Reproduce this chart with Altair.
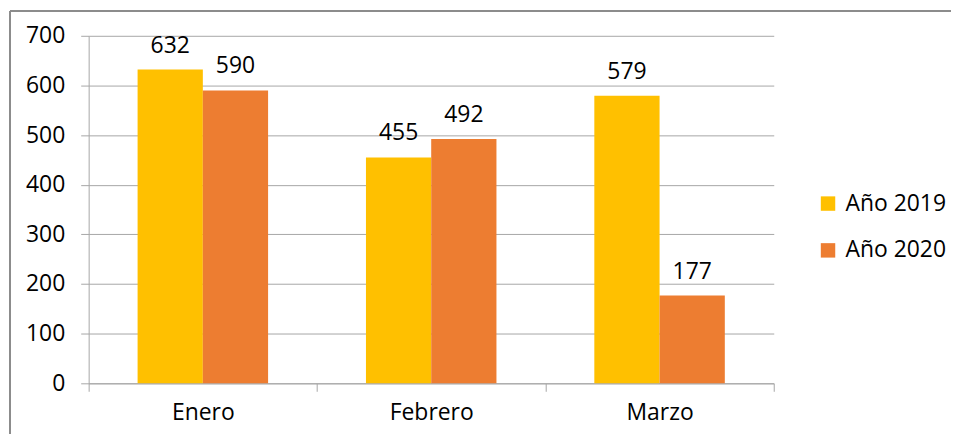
import altair as alt
import pandas as pd

months = ["Enero", "Febrero", "Marzo"]
series = ["Año 2019", "Año 2020"]
v2019 = [632, 455, 579]
v2020 = [590, 492, 177]
colors = ["#FFC000", "#ED7D31"]
y_ticks = [0, 100, 200, 300, 400, 500, 600, 700]

rows = []
for m, a, b in zip(months, v2019, v2020):
    rows.append({"Mes": m, "Serie": series[0], "Valor": a})
    rows.append({"Mes": m, "Serie": series[1], "Valor": b})
df = pd.DataFrame(rows)

FONT = "Open Sans"
FS = 23
GRID = "#a6a6a6"
W, H = 688, 349

x = alt.X(
    "Mes:N",
    sort=months,
    scale=alt.Scale(paddingInner=0, paddingOuter=0),
    axis=alt.Axis(
        title=None, labelAngle=0, tickBand="extent", tickSize=8,
        tickColor=GRID, domainColor=GRID, labelFont=FONT, labelFontSize=FS,
        labelColor="#000000", labelPadding=10, grid=False,
    ),
)
xo = alt.XOffset("Serie:N", sort=series, scale=alt.Scale(paddingInner=0, paddingOuter=0.75))
y = alt.Y(
    "Valor:Q",
    scale=alt.Scale(domain=[0, 700], nice=False),
    axis=alt.Axis(
        title=None, values=y_ticks, tickSize=8, tickColor=GRID, domainColor=GRID,
        gridColor=GRID, grid=True, labelFont=FONT, labelFontSize=FS,
        labelColor="#000000", labelPadding=16,
    ),
)

bars = alt.Chart(df).mark_bar().encode(
    x=x,
    xOffset=xo,
    y=y,
    color=alt.Color(
        "Serie:N",
        sort=series,
        scale=alt.Scale(domain=series, range=colors),
        legend=alt.Legend(
            title=None, orient="none", legendX=731, legendY=157,
            symbolType="square", symbolSize=210, symbolStrokeWidth=0,
            labelFont=FONT, labelFontSize=FS, labelColor="#000000",
            rowPadding=23, labelOffset=6,
        ),
    ),
)

labels = alt.Chart(df).mark_text(
    baseline="bottom", dy=-12, font=FONT, fontSize=FS, color="#000000"
).encode(x=x, xOffset=xo, y=y, text="Valor:Q")

frame_top = alt.Chart(df).mark_rule(stroke="#8c8c8c", strokeWidth=1.5).encode(
    x=alt.value(-79), x2=alt.value(W + 400), y=alt.value(-25),
)
frame_left = alt.Chart(df).mark_rule(stroke="#8c8c8c", strokeWidth=1.5).encode(
    x=alt.value(-79), y=alt.value(-25), y2=alt.value(H + 200),
)

chart = alt.layer(frame_top, frame_left, bars, labels).properties(
    width=W, height=H,
    autosize=alt.AutoSizeParams(type="none"),
    padding={"left": 81, "top": 27, "right": 178, "bottom": 50},
).configure_view(stroke=None)

chart.save("out.html", embed_options={"renderer": "svg", "actions": False})
